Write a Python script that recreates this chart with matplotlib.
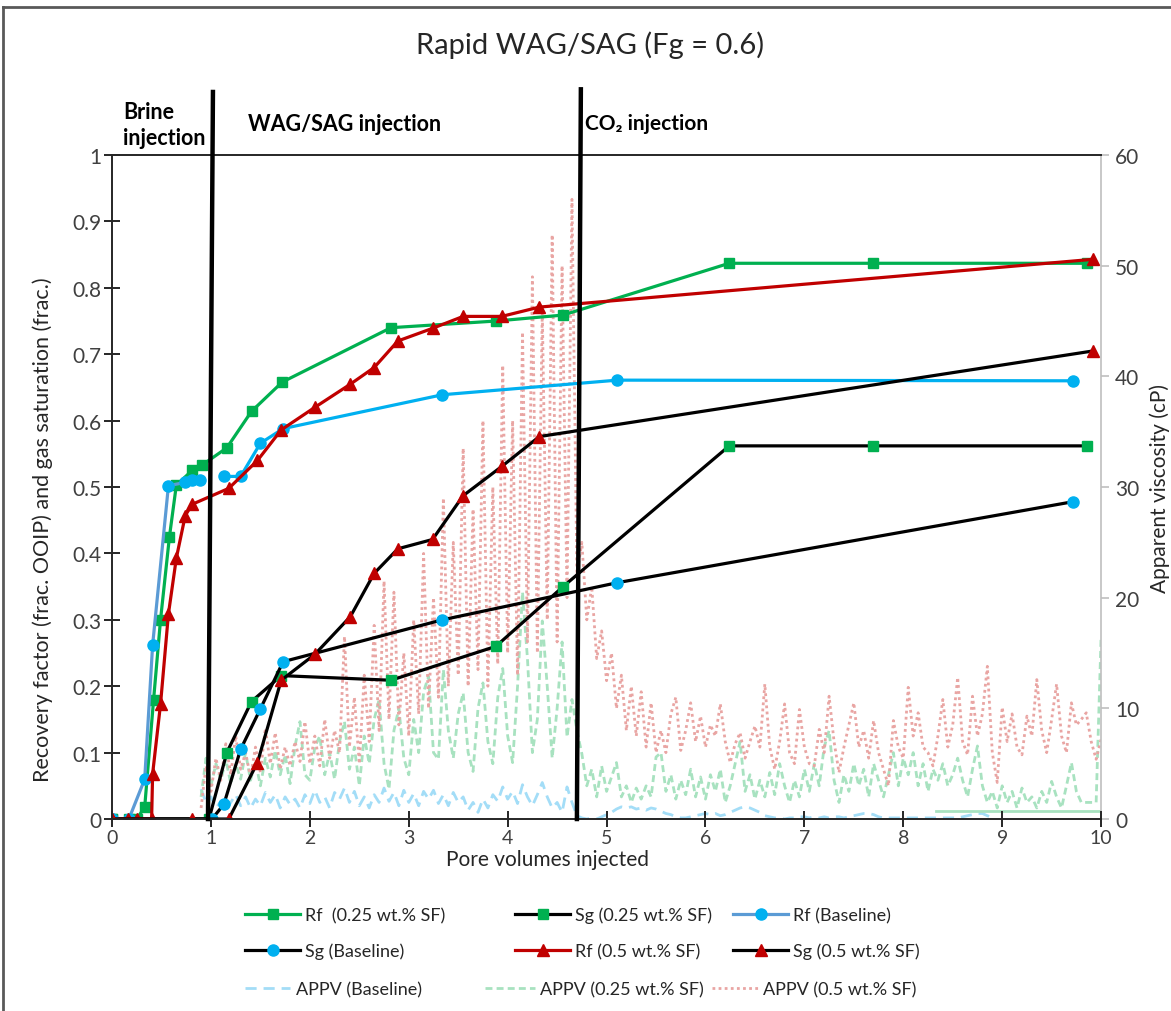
import numpy as np
import matplotlib
matplotlib.use('Agg')
import matplotlib.pyplot as plt
from matplotlib.lines import Line2D

plt.rcParams['font.family'] = ['Lato', 'DejaVu Sans']

# ---- Rf / Sg readings (left axis, frac.) ----
rf_025_pv = [0, 0.17, 0.25, 0.33, 0.42, 0.49, 0.58, 0.65, 0.81, 0.91, 1.16, 1.41, 1.72, 2.82, 3.88, 4.56, 6.24, 7.69, 9.86]
rf_025 = [0, 0, 0, 0.018, 0.18, 0.30, 0.425, 0.503, 0.525, 0.533, 0.559, 0.614, 0.658, 0.740, 0.750, 0.759, 0.837, 0.837, 0.837]

sg_025_pv = [0, 0.98, 1.16, 1.41, 1.71, 2.82, 3.88, 4.56, 6.24, 7.69, 9.86]
sg_025 = [0, 0, 0.100, 0.177, 0.216, 0.209, 0.260, 0.350, 0.562, 0.562, 0.562]

rf_base_brine_pv = [0, 0.17, 0.33, 0.41, 0.57, 0.74, 0.81, 0.89]
rf_base_brine = [0, 0, 0.06, 0.262, 0.502, 0.507, 0.511, 0.511]
rf_base_wag_pv = [1.13, 1.30, 1.50, 1.73, 3.34, 5.11, 9.72]
rf_base_wag = [0.516, 0.516, 0.566, 0.588, 0.639, 0.661, 0.660]

sg_base_pv = [0, 1.01, 1.13, 1.30, 1.50, 1.73, 3.34, 5.11, 9.72]
sg_base = [0, 0, 0.022, 0.105, 0.166, 0.237, 0.300, 0.356, 0.478]

rf_05_pv = [0, 0.165, 0.25, 0.40, 0.41, 0.49, 0.57, 0.65, 0.74, 0.81, 1.18, 1.47, 1.71,
            2.05, 2.41, 2.65, 2.89, 3.24, 3.55, 3.94, 4.32, 9.92]
rf_05 = [0, 0, 0, 0, 0.068, 0.173, 0.309, 0.393, 0.457, 0.474, 0.498, 0.540, 0.586,
         0.620, 0.655, 0.680, 0.720, 0.739, 0.757, 0.757, 0.771, 0.843]

sg_05_pv = [0, 0.81, 1.18, 1.47, 1.71, 2.05, 2.41, 2.65, 2.89, 3.24, 3.55, 3.94, 4.32, 9.92]
sg_05 = [0, 0, 0, 0.085, 0.209, 0.248, 0.305, 0.370, 0.407, 0.421, 0.487, 0.531, 0.576, 0.705]

# ---- apparent viscosity readings (right axis, cP), sampled every 0.05 PV from 0.90 PV ----
appv_start = 0.90
appv_step = 0.05

appv_base = [2.7, 1.5, 2.0, 1.0, 1.6, 0.8, 1.5, 2.2, 1.2, 2.0,
             1.0, 1.8, 1.2, 2.4, 1.5, 2.2, 1.0, 2.0, 1.3, 1.8,
             1.0, 2.2, 1.4, 2.6, 1.5, 2.0, 1.0, 2.4, 1.8, 2.8,
             1.5, 2.5, 1.2, 2.0, 1.0, 2.2, 1.5, 2.8, 1.6, 2.4,
             1.2, 2.6, 1.5, 2.3, 1.2, 2.5, 1.8, 2.6, 1.4, 2.2,
             1.2, 2.4, 1.5, 2.0, 0.8, 1.5, 0.6, 1.8, 1.0, 2.2,
             1.6, 2.9, 1.8, 2.5, 1.4, 3.1, 2.0, 1.2, 2.2, 3.3,
             2.0, 1.0, 1.5, 0.6, 2.9, 1.5, 0.3, 0.1, 0.0, 0.1,
             0.0, 0.2, 0.4, 0.6, 0.9, 1.1, 1.0, 1.1, 0.9, 1.0,
             0.8, 1.0, 0.9, 0.7, 0.5, 0.4, 0.2, 0.1, 0.1, 0.2,
             0.3, 0.4, 0.5, 0.4, 0.5, 0.3, 0.4, 0.6, 0.8, 1.0,
             1.1, 1.0, 0.8, 0.6, 0.3, 0.2, 0.1, 0.1, 0.0, 0.1,
             0.1, 0.2, 0.2, 0.1, 0.2, 0.1, 0.2, 0.1, 0.2, 0.2,
             0.1, 0.2, 0.3, 0.4, 0.5, 0.5, 0.4, 0.2, 0.1, 0.1,
             0.1, 0.1, 0.1, 0.1, 0.1, 0.1, 0.1, 0.1, 0.1, 0.1,
             0.1, 0.1, 0.1, 0.1, 0.2, 0.3, 0.4, 0.5, 0.5, 0.3,
             0.1]

appv_025 = [2.0, 5.5, 3.0, 5.0, 3.5, 5.4, 3.2, 5.0, 3.6, 6.0,
            3.5, 5.2, 3.0, 5.5, 3.8, 6.2, 4.0, 5.8, 3.2, 6.6,
            8.8, 4.0, 3.5, 6.5, 7.5, 4.0, 6.0, 3.6, 7.0, 8.8,
            4.5, 6.5, 3.0, 7.5, 5.0, 9.0, 10.8, 5.0, 2.7, 8.0,
            10.0, 5.5, 4.0, 9.0, 6.0, 11.5, 12.9, 6.0, 5.4, 13.5,
            8.0, 5.5, 9.5, 11.4, 6.0, 4.3, 10.0, 12.3, 7.0, 5.0,
            11.0, 13.6, 7.5, 5.1, 12.0, 20.5, 14.5, 6.0, 9.0, 17.9,
            12.0, 5.5, 10.0, 16.0, 7.4, 10.8, 8.0, 5.9, 3.0, 4.5,
            2.0, 4.8, 2.5, 3.8, 5.1, 2.0, 3.0, 1.5, 2.8, 1.8,
            3.0, 2.0, 5.6, 6.0, 2.5, 4.0, 1.8, 3.5, 2.2, 4.5,
            2.0, 3.8, 1.8, 4.0, 2.5, 4.5, 1.5, 3.0, 5.0, 7.0,
            2.5, 4.0, 1.8, 3.5, 2.0, 4.2, 2.2, 5.0, 3.0, 1.5,
            3.5, 2.0, 4.5, 2.5, 5.0, 3.0, 6.5, 8.0, 3.5, 1.5,
            4.0, 2.5, 5.0, 3.0, 4.5, 2.0, 5.0, 3.5, 2.0, 4.0,
            6.0, 3.0, 5.5, 4.0, 6.0, 3.0, 5.0, 2.5, 4.5, 3.5,
            5.0, 3.0, 4.0, 5.5, 3.5, 2.0, 4.5, 6.6, 3.0, 1.5,
            2.5, 1.0, 3.0, 1.5, 2.5, 1.0, 2.8, 1.5, 2.0, 1.0,
            2.5, 1.5, 3.4, 2.0, 1.0, 3.0, 5.1, 2.5, 1.5, 1.5,
            1.5, 1.5, 16.5]
appv_025_tail_pv = [8.33, 10.0]
appv_025_tail = [0.75, 0.75]

appv_05 = [1.0, 4.8, 2.5, 5.5, 3.5, 6.8, 4.0, 7.5, 4.5, 6.0,
           3.8, 6.5, 4.2, 8.2, 5.0, 7.8, 4.5, 6.5, 4.8, 7.0,
           5.2, 8.8, 5.0, 7.5, 4.8, 9.0, 5.5, 8.0, 6.0, 16.5,
           6.5, 11.0, 5.0, 13.0, 7.0, 17.5, 8.0, 21.5, 9.0, 20.5,
           8.5, 15.0, 7.5, 18.0, 9.5, 24.0, 10.0, 20.0, 11.0, 29.0,
           12.0, 25.0, 13.0, 33.5, 12.0, 28.0, 13.5, 36.0, 12.0, 30.0,
           14.0, 41.0, 15.0, 36.0, 13.0, 44.0, 16.0, 49.0, 15.0, 46.0,
           18.0, 52.8, 16.0, 50.0, 20.0, 56.0, 22.0, 25.0, 18.0, 21.0,
           14.5, 17.0, 12.5, 15.0, 10.0, 13.0, 8.0, 12.0, 7.5, 11.5,
           6.5, 10.5, 6.0, 8.0, 6.0, 9.5, 11.0, 6.2, 8.0, 10.5,
           7.0, 9.3, 6.5, 8.5, 7.5, 10.4, 7.0, 5.1, 6.8, 7.8,
           5.5, 7.0, 8.4, 6.5, 12.2, 6.5, 4.5, 7.0, 10.4, 6.0,
           5.0, 9.9, 6.5, 5.0, 4.8, 8.1, 6.0, 11.1, 7.0, 4.2,
           6.5, 8.5, 10.5, 6.5, 8.0, 5.5, 8.9, 6.0, 4.5, 3.0,
           8.9, 6.5, 5.5, 11.9, 7.5, 9.6, 6.5, 6.0, 4.8, 7.5,
           10.8, 6.5, 8.5, 12.8, 7.0, 5.8, 11.1, 7.5, 9.5, 13.8,
           6.0, 3.3, 10.1, 7.0, 9.5, 6.5, 5.8, 9.3, 7.5, 12.6,
           8.0, 6.0, 9.0, 12.2, 7.5, 6.0, 10.5, 8.5, 9.0, 9.6,
           7.0, 5.4, 7.2]


def sample_pv(values):
    return np.round(appv_start + appv_step * np.arange(len(values)), 2)


GREEN = '#00B050'
RED = '#C00000'
CYAN = '#00B0F0'
BLUE = '#5B9BD5'
W, H = 1171, 1012

fig = plt.figure(figsize=(11.71, 10.12), dpi=100)
ax = fig.add_axes([0.0957, 0.1897, 0.8446, 0.6561])
ax2 = ax.twinx()
ax.set_zorder(ax2.get_zorder() + 1)
ax.patch.set_visible(False)

# viscosity traces behind everything
l_ab, = ax2.plot(sample_pv(appv_base), appv_base, color='#A3DDF7', lw=2, dashes=(4, 2.5),
                 label='APPV (Baseline)')
l_a25, = ax2.plot(sample_pv(appv_025), appv_025, color='#A8E2C0', lw=2, dashes=(2.5, 1.5),
                  label='APPV (0.25 wt.% SF)')
ax2.plot(appv_025_tail_pv, appv_025_tail, color='#A8E2C0', lw=2)
l_a05, = ax2.plot(sample_pv(appv_05), appv_05, color='#E9A5A3', lw=2, dashes=(1, 1.2),
                  label='APPV (0.5 wt.% SF)')

mk = dict(lw=2.3)
l_rf25, = ax.plot(rf_025_pv, rf_025, color=GREEN, marker='s', ms=7.5, mfc=GREEN, mec=GREEN,
                  label='Rf  (0.25 wt.% SF)', **mk)
l_sg25, = ax.plot(sg_025_pv, sg_025, color='black', marker='s', ms=7.5, mfc=GREEN, mec=GREEN,
                  label='Sg (0.25 wt.% SF)', **mk)
l_rfb, = ax.plot(rf_base_brine_pv, rf_base_brine, color=BLUE, marker='o', ms=8, mfc=CYAN, mec=CYAN,
                 label='Rf (Baseline)', **mk)
ax.plot(rf_base_wag_pv, rf_base_wag, color=CYAN, marker='o', ms=8, mfc=CYAN, mec=CYAN, **mk)
l_sgb, = ax.plot(sg_base_pv, sg_base, color='black', marker='o', ms=8, mfc=CYAN, mec=CYAN,
                 label='Sg (Baseline)', **mk)
l_rf05, = ax.plot(rf_05_pv, rf_05, color=RED, marker='^', ms=8.5, mfc=RED, mec=RED,
                  label='Rf (0.5 wt.% SF)', **mk)
l_sg05, = ax.plot(sg_05_pv, sg_05, color='black', marker='^', ms=8.5, mfc=RED, mec=RED,
                  label='Sg (0.5 wt.% SF)', **mk)

# injection stage dividers
ax.plot([0.97, 1.02], [0, 1.095], color='black', lw=3.2, clip_on=False, zorder=6)
ax.plot([4.70, 4.74], [0, 1.099], color='black', lw=3.2, clip_on=False, zorder=6)

ax.text(0.11, 1.066, 'Brine', fontsize=15.5, fontweight='bold', va='center')
ax.text(0.11, 1.027, 'injection', fontsize=15.5, fontweight='bold', va='center')
ax.text(1.375, 1.047, 'WAG/SAG injection', fontsize=15.5, fontweight='bold', va='center')
ax.text(4.78, 1.048, 'CO₂ injection', fontsize=15, fontweight='bold', va='center')

ax.set_xlim(0, 10)
ax.set_ylim(0, 1)
ax2.set_ylim(0, 60)
ax.set_xticks(range(0, 11))
ax.set_yticks(np.arange(0, 1.01, 0.1))
ax.set_yticklabels(['0', '0.1', '0.2', '0.3', '0.4', '0.5', '0.6', '0.7', '0.8', '0.9', '1'])
ax2.set_yticks(range(0, 61, 10))

for s in ['left', 'bottom', 'top']:
    ax.spines[s].set_color('#262626')
    ax.spines[s].set_linewidth(1.4)
ax.spines['right'].set_visible(False)
for s in ['left', 'bottom', 'top']:
    ax2.spines[s].set_visible(False)
ax2.spines['right'].set_color('#BFBFBF')
ax2.spines['right'].set_linewidth(1.2)

ax.tick_params(axis='x', direction='inout', length=12, width=1.4, color='#262626',
               labelsize=14, labelcolor='#404040', pad=1.5)
ax.tick_params(axis='y', direction='inout', length=11, width=1.4, color='#262626',
               labelsize=15, labelcolor='#404040', pad=2)
ax2.tick_params(axis='y', direction='out', length=6, width=1.2, color='#BFBFBF',
                labelsize=15, labelcolor='#404040', pad=4)

ax.set_xlabel('Pore volumes injected', fontsize=15, color='#262626')
ax.xaxis.set_label_coords(0.4398, -0.045)
ax.set_ylabel('Recovery factor (frac. OOIP) and gas saturation (frac.)', fontsize=15.5,
              color='#262626')
ax.yaxis.set_label_coords(-0.0597, 0.438)
ax2.set_ylabel('Apparent viscosity (cP)', fontsize=15, color='#262626', rotation=90)
ax2.yaxis.set_label_coords(1.0485, 0.5)

fig.text(0.504, 0.955, 'Rapid WAG/SAG (Fg = 0.6)', fontsize=21, ha='center', va='center',
         color='#262626')

# legend entries placed one by one, like the spreadsheet legend
legend_slots = [
    (l_rf25, 245, 916, 3.05), (l_sg25, 515, 916, 3.05), (l_rfb, 733, 916, 3.05),
    (l_sgb, 245, 952, 3.05), (l_rf05, 515, 952, 3.05), (l_sg05, 733, 952, 3.05),
    (l_ab, 245, 990, 2.5), (l_a25, 485, 990, 2.75), (l_a05, 712, 990, 2.55),
]
for handle, px, py, hl in legend_slots:
    fig.legend([handle], [handle.get_label()], loc='center left',
               bbox_to_anchor=(px / W, 1 - py / H), bbox_transform=fig.transFigure,
               frameon=False, fontsize=13, handlelength=hl, handletextpad=0.3,
               borderpad=0, borderaxespad=0, labelcolor='#262626')

# outer frame edges
fig.add_artist(Line2D([0.0026, 0.0026], [0, 0.9921], transform=fig.transFigure, color='#595959', lw=2))
fig.add_artist(Line2D([0.0026, 1], [0.9921, 0.9921], transform=fig.transFigure, color='#595959', lw=2))

fig.savefig('out.png', dpi=100)
